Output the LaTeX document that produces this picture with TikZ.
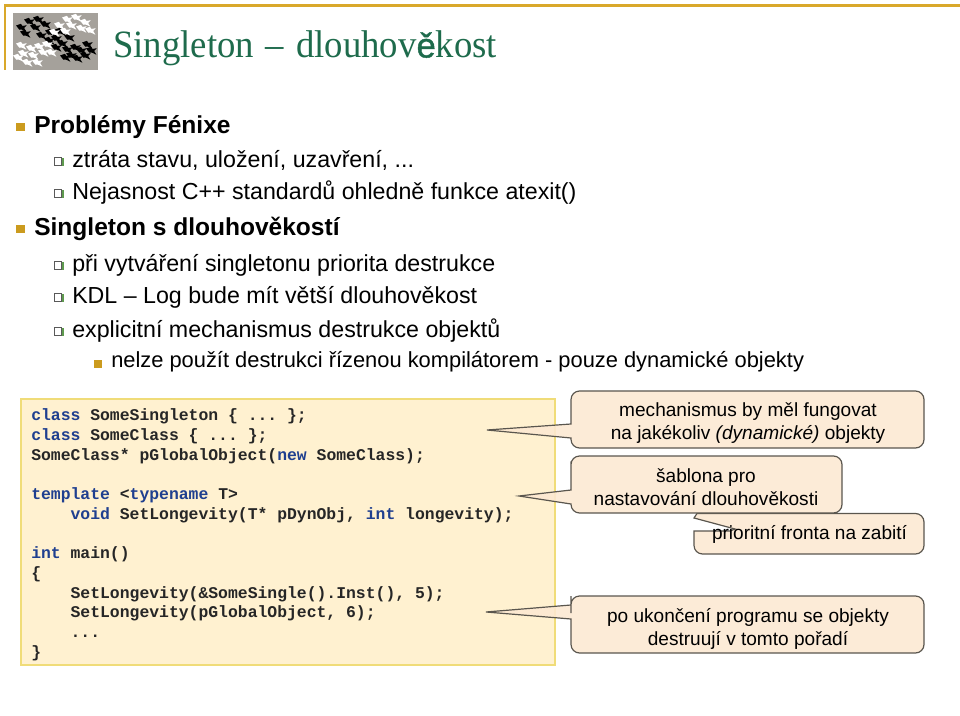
\documentclass[tikz,border=0pt]{standalone}
\usepackage{fontspec}
\setmainfont{Liberation Sans}
\newfontfamily\titlefont[FakeStretch=0.95]{Liberation Serif}
\newfontfamily\titlemark[FakeBold=1.2]{Liberation Sans}
\setmonofont{Liberation Mono}
\usetikzlibrary{positioning}
\definecolor{slideGold}{HTML}{D9A82A}
\definecolor{bulletGold}{HTML}{CB9B1E}
\definecolor{slideGreen}{HTML}{1E6B4C}
\definecolor{codeFill}{HTML}{FFF1D0}
\definecolor{codeLine}{HTML}{F0DC78}
\definecolor{noteFill}{HTML}{FCE8D2}
\definecolor{noteLine}{HTML}{5A564E}
\definecolor{keyBlue}{HTML}{1F3F8F}
\definecolor{imgGray}{HTML}{A5A19B}
\definecolor{boxShadow}{HTML}{5E9A4E}
\newcommand{\kw}[1]{\textcolor{keyBlue}{#1}}
\tikzset{
	lineOne/.style={anchor=base west,inner sep=0pt,font=\fontsize{17.4pt}{20pt}\selectfont},
	lineTwo/.style={anchor=base west,inner sep=0pt,font=\fontsize{16.4pt}{20pt}\selectfont},
	headOne/.style={anchor=base west,inner sep=0pt,font=\fontsize{18.4pt}{20pt}\selectfont\bfseries},
	noteText/.style={anchor=base,inner sep=0pt,align=center,font=\fontsize{14.3pt}{17.2pt}\selectfont},
	noteShape/.style={draw=noteLine,line width=0.9pt,fill=noteFill,fill opacity=0.88},
	bulletBig/.style={fill=bulletGold,minimum size=6.6pt,inner sep=0pt},
	bulletBox/.style={draw=black!65,fill=white,line width=0.6pt,minimum size=5.8pt,inner sep=0pt}
}
\newcommand{\birdAt}[3]{\fill[#3,shift={(#1,#2)},rotate=-25,scale=1.2] (-5,1) -- (-2,-2) -- (0,-1) -- (3,-3) -- (2,0) -- (5,2) -- (1,2) -- (-1,3) -- cycle;}
\begin{document}
\begin{tikzpicture}[x=0.75pt,y=-0.75pt]
		\useasboundingbox (0,0) rectangle (960,716);

		% header
		\draw[slideGold,line width=1.7pt] (5,70) -- (5,5.5) -- (960,5.5);
		\fill[imgGray] (13,13) rectangle (98,70);
		\begin{scope}
		\clip (13,13) rectangle (98,70);
		\foreach \bx/\by in {22/27,30/21,39/19,26/33,36/27,46/24,51/32,42/35,57/38,50/40,63/43,57/47,68/49,76/47,72/55,82/50,78/58,88/44,86/55,92/50,66/57,61/31,70/37} {
			\birdAt{\bx}{\by}{black}
		}
		\foreach \bx/\by in {68/19,77/17,86/22,72/25,82/28,91/30,60/25,66/31,55/32,48/44,40/46,32/48,22/45,44/52,34/55,24/53,28/62,38/62,19/57,52/52} {
			\birdAt{\bx}{\by}{white}
		}
		\end{scope}
		\node[anchor=base west,inner sep=0pt,text=slideGreen,font=\fontsize{29pt}{30pt}\selectfont\titlefont] (slideTitle) at (113,57.5)
			{Singleton\hspace{2pt} – \hspace{2pt}dlouhov{\titlemark\fontsize{26pt}{30pt}\selectfont ě}kost};

		% bullets
		\foreach \by in {127,229}
			\node[bulletBig] (big\by) at (20.5,\by) {};
		\node[bulletBig] (small364) at (98,364) {};
		\foreach \by in {161,193,265,297,331} {
			\fill[boxShadow] (55.5,\by-3) rectangle (63.5,\by+5.5);
			\node[bulletBox] (box\by) at (58,\by+0.3) {};
		}

		\node[headOne] (headA) at (34,133.5) {Problémy Fénixe};
		\node[lineOne] (lineA) at (72,167.5) {ztráta stavu, uložení, uzavření, ...};
		\node[lineOne] (lineB) at (72,200) {Nejasnost C++ standardů ohledně funkce atexit()};
		\node[headOne] (headB) at (34,235.5) {Singleton s dlouhověkostí};
		\node[lineOne] (lineC) at (72,271.5) {při vytváření singletonu priorita destrukce};
		\node[lineOne] (lineD) at (72,303.5) {KDL – Log bude mít větší dlouhověkost};
		\node[lineOne] (lineE) at (72,337.5) {explicitní mechanismus destrukce objektů};
		\node[lineTwo] (lineF) at (111,368) {nelze použít destrukci řízenou kompilátorem - pouze dynamické objekty};

		% code
		\draw[codeLine,line width=1.3pt,fill=codeFill] (21,399) rectangle (555,665);
		\node[anchor=north west,inner sep=0pt,align=left,text=black!85,
			font=\fontsize{12.3pt}{14.78pt}\selectfont\ttfamily\bfseries] (codeText) at (31,408.6) {%
\kw{class} SomeSingleton \{ ... \};\\
\kw{class} SomeClass \{ ... \};\\
SomeClass* pGlobalObject(\kw{new} SomeClass);\\
\strut\\
\kw{template} <\kw{typename} T>\\
\ \ \ \ \kw{void} SetLongevity(T* pDynObj, \kw{int} longevity);\\
\strut\\
\kw{int} main()\\
\{\\
\ \ \ \ SetLongevity(\&SomeSingle().Inst(), 5);\\
\ \ \ \ SetLongevity(pGlobalObject, 6);\\
\ \ \ \ ...\\
\}};

		% notes
		\coordinate (tipMech) at (487,430);
		\coordinate (tipTempl) at (519,496);
		\coordinate (tipPrior) at (694,518);
		\coordinate (tipEnd) at (486,612);
		\draw[noteShape] (571,424) -- (tipMech) -- (571,438) [rounded corners=6.4pt] -- (571,448) -- (924,448) -- (924,391) -- (571,391) -- (571,410) [sharp corners] -- cycle;
		\draw[noteShape] (697,513.5) -- (tipPrior) -- (735,529) -- (730,531) -- (694,531) [rounded corners=6.4pt] -- (694,554) -- (924,554) -- (924,513.5) -- (760,513.5) [sharp corners] -- cycle;
		\draw[noteShape] (571,490) -- (tipTempl) -- (571,504) [rounded corners=6.4pt] -- (571,513) -- (842,513) -- (842,456) -- (571,456) -- (571,470) [sharp corners] -- cycle;
		\draw[noteShape] (571,605) -- (tipEnd) -- (571,619) [rounded corners=6.4pt] -- (571,653) -- (924,653) -- (924,596) -- (571,596) -- (571,604.7) [sharp corners] -- cycle;

		\node[noteText] (noteMechA) at (748,416.5) {mechanismus by měl fungovat};
		\node[noteText] (noteMechB) at (748,439.5) {na jakékoliv \textit{(dynamické)} objekty};
		\node[noteText] (noteTemplA) at (706,482) {šablona pro};
		\node[noteText] (noteTemplB) at (706,505) {nastavování dlouhověkosti};
		\node[noteText] (notePrior) at (809.5,539) {prioritní fronta na zabití};
		\node[noteText] (noteEndA) at (748,622) {po ukončení programu se objekty};
		\node[noteText] (noteEndB) at (748,645) {destruují v tomto pořadí};
\end{tikzpicture}
\end{document}
